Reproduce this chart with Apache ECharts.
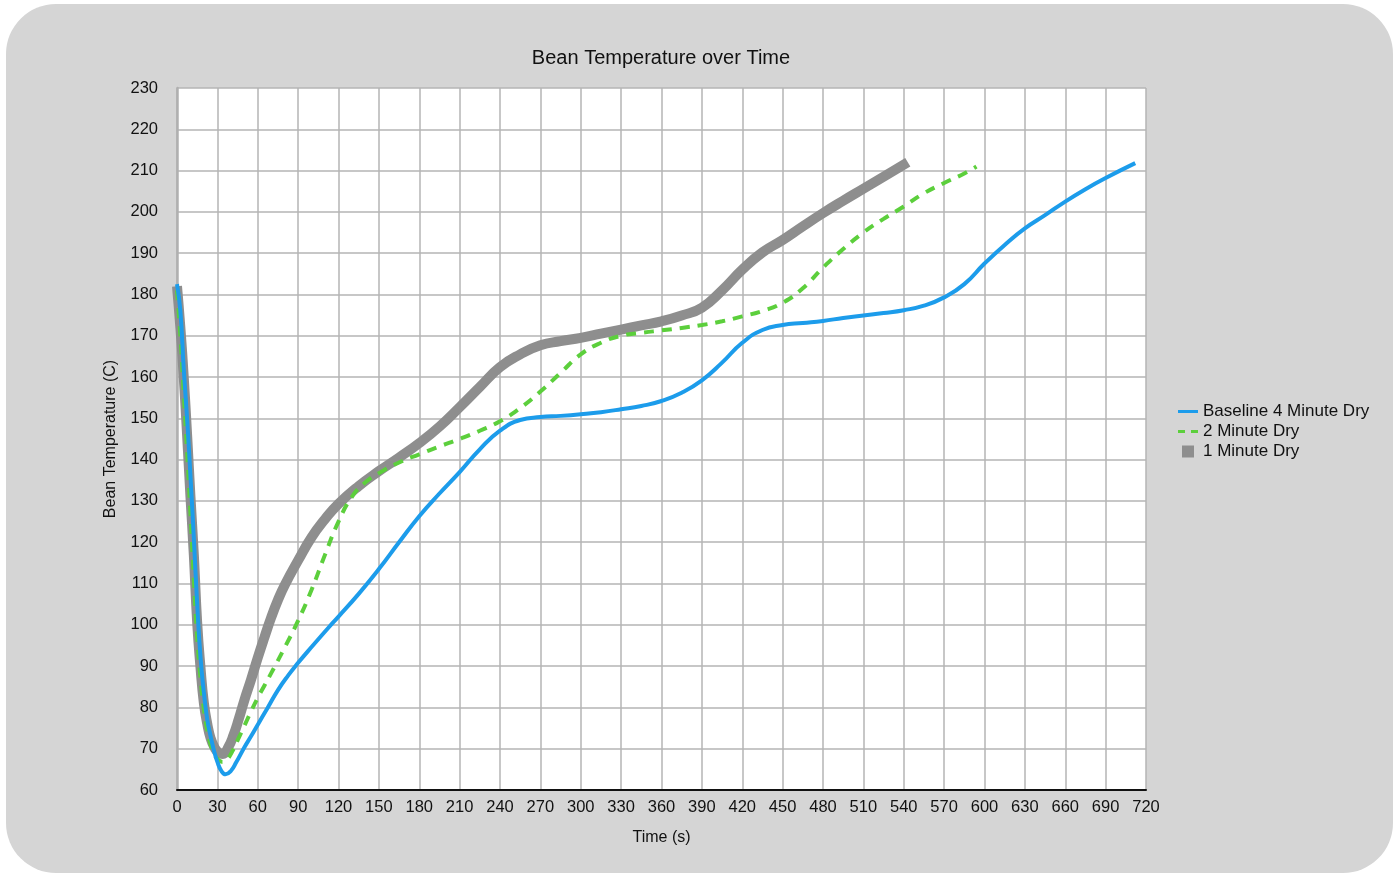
<!DOCTYPE html>
<html>
<head>
<meta charset="utf-8">
<title>Bean Temperature over Time</title>
<script src="https://cdn.jsdelivr.net/npm/echarts@6/dist/echarts.min.js"></script>
<style>
  html, body { margin: 0; padding: 0; background: #fff; }
  #main { width: 1400px; height: 877px; }
</style>
</head>
<body>
<div id="main"></div>
<script>
// values: time (s) and bean temperature (C)
var baseTime = [0, 2.5, 5, 7.5, 10, 12.5, 15, 17.5, 20, 22.5, 25, 27.5, 30, 33, 36, 40, 44, 50, 55, 60, 67.5, 75, 82.5, 90, 97.5, 105, 112.5, 120, 135, 150, 165, 180, 195, 210, 225, 240, 255, 270, 285, 300, 315, 330, 345, 360, 375, 390, 405, 420, 435, 450, 465, 480, 495, 510, 525, 540, 555, 570, 585, 600, 615, 630, 645, 660, 675, 690, 712];
var baseTemp = [182.5, 176, 162, 150, 136, 121, 105, 92, 83.5, 77, 73, 69.5, 66.8, 64.6, 63.8, 64.6, 66.7, 70.3, 73, 75.8, 80, 84.2, 87.7, 90.8, 93.7, 96.5, 99.3, 102, 107.5, 113.5, 120, 126.3, 131.8, 137, 142.5, 147, 149.6, 150.3, 150.6, 151, 151.5, 152.2, 153, 154.2, 156.2, 159.2, 163.5, 168.3, 171.4, 172.6, 173.1, 173.6, 174.3, 174.9, 175.5, 176.2, 177.3, 179.3, 182.5, 187.5, 192, 196, 199.2, 202.5, 205.5, 208.2, 211.8];

var twoTime = [0, 2.5, 5, 7.5, 10, 12.5, 15, 17.5, 20, 22.5, 25, 28, 31, 34, 37, 41, 45, 50, 55, 60, 65, 70, 80, 90, 100, 110, 120, 130, 140, 150, 165, 180, 195, 210, 225, 240, 255, 270, 285, 300, 315, 330, 345, 360, 375, 390, 405, 420, 435, 450, 465, 480, 495, 510, 525, 540, 555, 570, 585, 594];
var twoTemp = [181, 170, 156, 142, 127, 111, 97, 87, 79.5, 74.5, 71, 68.5, 67.2, 66.8, 67.3, 69.3, 72, 75.5, 79, 82.3, 85.3, 88.3, 94.5, 101, 108.5, 117, 125, 131, 134.5, 136.7, 139.3, 141.3, 143.2, 145, 147, 149.3, 152.5, 156.5, 161, 165.5, 168.3, 170, 170.7, 171.3, 171.9, 172.6, 173.5, 174.7, 176, 178, 181.5, 186.5, 191, 195, 198.3, 201.3, 204.5, 207, 209.3, 211];

var oneTime = [0, 2.5, 5, 7.5, 10, 12.5, 15, 17.5, 20, 22.5, 25, 28, 31, 34, 38, 42, 46, 50, 55, 60, 65, 70, 75, 80, 90, 100, 110, 120, 135, 150, 165, 180, 195, 210, 225, 240, 255, 270, 285, 300, 315, 330, 345, 360, 375, 390, 405, 420, 435, 450, 465, 480, 495, 510, 525, 543];
var oneTemp = [182, 172, 160, 146, 131, 117, 100.5, 89.5, 81, 76, 72.5, 70.2, 69, 68.7, 70.3, 73.3, 77.3, 81.7, 86.7, 92, 97, 101.8, 106, 109.6, 115.6, 121.2, 125.6, 129.3, 133.6, 137.2, 140.5, 144, 148, 152.7, 157.6, 162.4, 165.5, 167.7, 168.7, 169.5, 170.5, 171.5, 172.5, 173.5, 174.9, 176.8, 181, 186, 190.2, 193.2, 196.5, 199.7, 202.7, 205.6, 208.5, 212];

var seriesNames = ['Baseline 4 Minute Dry', '2 Minute Dry', '1 Minute Dry'];

function pairs(xs, ys) {
    var out = [];
    for (var i = 0; i < xs.length; i++) {
        out.push([xs[i], ys[i]]);
    }
    return out;
}

var font = '"Liberation Sans", Arial, Helvetica, sans-serif';

var option = {
    animation: false,
    textStyle: { fontFamily: font },
    graphic: [{
        type: 'rect',
        z: -100,
        shape: { x: 6, y: 4, width: 1387, height: 869, r: 50 },
        style: { fill: '#d5d5d5' }
    }],
    title: {
        text: 'Bean Temperature over Time',
        left: 656,
        textAlign: 'center',
        top: 43,
        textStyle: { fontFamily: font, fontSize: 20, fontWeight: 'normal', color: '#111' }
    },
    legend: {
        orient: 'vertical',
        left: 1173,
        top: 398,
        itemWidth: 20,
        itemHeight: 12,
        itemGap: 3,
        symbolKeepAspect: true,
        textStyle: { fontFamily: font, fontSize: 17, color: '#111', padding: [0, 0, 0, 0] },
        data: [
            { name: seriesNames[0], icon: 'path://M0,0h20v3h-20z', itemStyle: { color: '#1c9ceb' } },
            { name: seriesNames[1], icon: 'path://M0,0h7v3h-7zM13,0h7v3h-7z', itemStyle: { color: '#5ccf3c' } },
            { name: seriesNames[2], icon: 'path://M0,0h10v10h-10z', itemStyle: { color: '#8e8e8e' } }
        ]
    },
    grid: {
        left: 177,
        right: 254,
        top: 88,
        bottom: 87,
        show: true,
        backgroundColor: '#ffffff',
        borderWidth: 0
    },
    xAxis: {
        type: 'value',
        min: 0,
        max: 720,
        interval: 30,
        name: 'Time (s)',
        nameLocation: 'middle',
        nameGap: 40,
        nameTextStyle: { fontFamily: font, fontSize: 16, color: '#111' },
        axisLine: { show: true, lineStyle: { color: '#111', width: 2 } },
        axisTick: { show: false },
        axisLabel: { fontFamily: font, fontSize: 16.5, color: '#111', margin: 9 },
        splitLine: { show: true, lineStyle: { color: '#b4b4b4', width: 1.5 } }
    },
    yAxis: {
        type: 'value',
        min: 60,
        max: 230,
        interval: 10,
        name: 'Bean Temperature (C)',
        nameLocation: 'middle',
        nameGap: 58,
        nameTextStyle: { fontFamily: font, fontSize: 16, color: '#111' },
        axisLine: { show: true, lineStyle: { color: '#b0b0b0', width: 2.5 } },
        axisTick: { show: false },
        axisLabel: { fontFamily: font, fontSize: 16.5, color: '#111', margin: 19 },
        splitLine: { show: true, lineStyle: { color: '#b4b4b4', width: 1.5 } }
    },
    series: [
        {
            name: seriesNames[2],
            type: 'line',
            smooth: true,
            symbol: 'none',
            color: '#8e8e8e',
            lineStyle: { color: '#8e8e8e', width: 10, cap: 'butt' },
            data: pairs(oneTime, oneTemp),
            z: 2
        },
        {
            name: seriesNames[1],
            type: 'line',
            smooth: true,
            symbol: 'none',
            color: '#5ccf3c',
            lineStyle: { color: '#5ccf3c', width: 4, type: [10, 8] },
            data: pairs(twoTime, twoTemp),
            z: 3
        },
        {
            name: seriesNames[0],
            type: 'line',
            smooth: true,
            symbol: 'none',
            color: '#1c9ceb',
            lineStyle: { color: '#1c9ceb', width: 4 },
            data: pairs(baseTime, baseTemp),
            z: 4
        }
    ]
};

var myChart = echarts.init(document.getElementById('main'));
myChart.setOption(option);
</script>
</body>
</html>
